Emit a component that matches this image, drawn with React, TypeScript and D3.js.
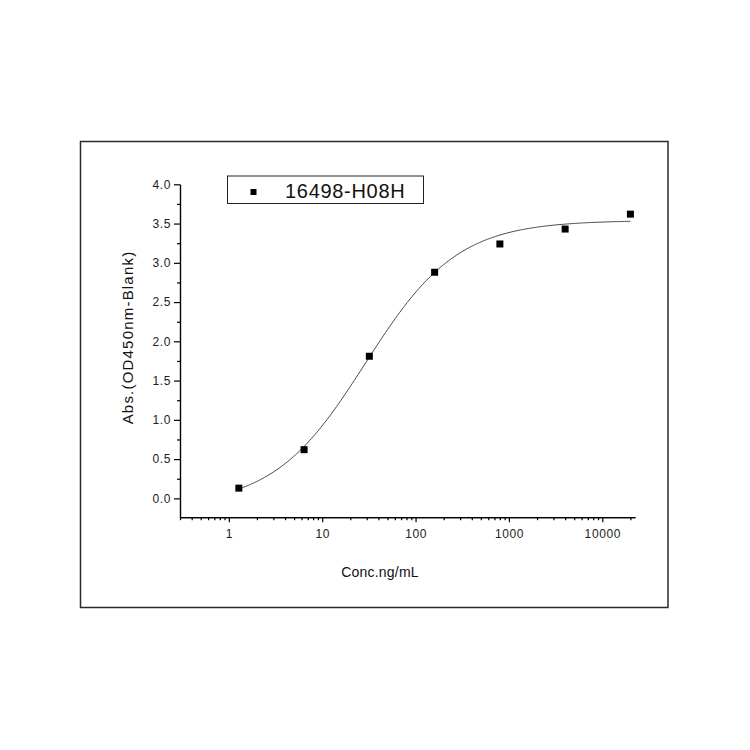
import { useEffect, useRef } from 'react';
import * as d3 from 'd3';

// measured points (ng/mL vs OD450 - blank)
const conc = [1.28, 6.4, 32, 160, 800, 4000, 20000];
const absorbance = [0.13, 0.62, 1.81, 2.88, 3.24, 3.43, 3.62];
const seriesName = '16498-H08H';

const xTicks = [1, 10, 100, 1000, 10000];
const yTicks = [0, 0.5, 1, 1.5, 2, 2.5, 3, 3.5, 4];
const xDomain: [number, number] = [0.3, 22400];
const yDomain: [number, number] = [-0.24, 4];

// 4-parameter logistic fit, parameters estimated from the drawn curve
const fitBottom = -0.1;
const fitTop = 3.54;
const fitX0 = 29;
const fitHill = 0.88;

const FONT = 'Liberation Sans, Arial, sans-serif';

export default function App() {
  const svgRef = useRef<SVGSVGElement>(null);

  useEffect(() => {
    const svg = d3.select(svgRef.current);
    if (!svg.node()) return;
    svg.selectAll('*').remove();

    const width = 750;
    const height = 750;
    svg.attr('viewBox', `0 0 ${width} ${height}`);

    const x = d3.scaleLog().domain(xDomain).range([180, 635]);
    const y = d3.scaleLinear().domain(yDomain).range([517.2, 184.3]);

    svg.append('rect').attr('width', width).attr('height', height).attr('fill', '#fff');

    // outer frame
    svg
      .append('rect')
      .attr('x', 80.5)
      .attr('y', 141.5)
      .attr('width', 587.5)
      .attr('height', 466)
      .attr('fill', 'none')
      .attr('stroke', '#2a2a2a')
      .attr('stroke-width', 1.5);

    const styleTicks = (sel: d3.Selection<SVGGElement, unknown, null, undefined>) => {
      sel.select('.domain').attr('stroke', '#000').attr('stroke-width', 1.2);
      sel.selectAll('.tick line').attr('stroke', '#000').attr('stroke-width', 1.2);
      sel
        .selectAll('text')
        .attr('font-family', FONT)
        .attr('font-size', 12)
        .attr('letter-spacing', 0.6)
        .attr('fill', '#222');
    };

    // minor ticks
    const xMinor: number[] = [];
    for (let e = -1; e <= 4; e++) {
      for (let m = 2; m <= 9; m++) {
        const v = m * Math.pow(10, e);
        if (v >= xDomain[0] && v <= xDomain[1]) xMinor.push(v);
      }
    }
    const yMinor = d3.range(-0.25, 4.01, 0.25).filter((v) => v >= yDomain[0] && !yTicks.includes(+v.toFixed(2)));

    svg
      .append('g')
      .attr('transform', 'translate(0,517.2)')
      .call(d3.axisBottom(x).tickValues(xMinor).tickSize(3).tickFormat(() => '').tickSizeOuter(0))
      .call(styleTicks);

    svg
      .append('g')
      .attr('transform', 'translate(0,517.2)')
      .call(d3.axisBottom(x).tickValues(xTicks).tickSize(5).tickPadding(7).tickSizeOuter(0).tickFormat((v) => `${v}`))
      .call(styleTicks);

    svg
      .append('g')
      .attr('transform', 'translate(180,0)')
      .call(d3.axisLeft(y).tickValues(yMinor).tickSize(3).tickFormat(() => '').tickSizeOuter(0))
      .call(styleTicks);

    svg
      .append('g')
      .attr('transform', 'translate(180,0)')
      .call(d3.axisLeft(y).tickValues(yTicks).tickSize(6).tickPadding(3).tickSizeOuter(0).tickFormat(d3.format('.1f')))
      .call(styleTicks);

    // fitted curve
    const fitY = (c: number) => fitTop + (fitBottom - fitTop) / (1 + Math.pow(c / fitX0, fitHill));
    const logMin = Math.log10(conc[0]);
    const logMax = Math.log10(conc[conc.length - 1]);
    const curvePts = d3.range(0, 201).map((i) => Math.pow(10, logMin + ((logMax - logMin) * i) / 200));
    svg
      .append('path')
      .datum(curvePts)
      .attr('fill', 'none')
      .attr('stroke', '#4a4a4a')
      .attr('stroke-width', 1)
      .attr(
        'd',
        d3
          .line<number>()
          .x((c) => x(c))
          .y((c) => y(fitY(c))),
      );

    // data markers
    const s = 7;
    svg
      .append('g')
      .selectAll('rect')
      .data(conc.map((c, i) => ({ c, v: absorbance[i] })))
      .join('rect')
      .attr('x', (d) => x(d.c) - s / 2)
      .attr('y', (d) => y(d.v) - s / 2)
      .attr('width', s)
      .attr('height', s)
      .attr('fill', '#000');

    // legend
    const lg = svg.append('g');
    lg.append('rect')
      .attr('x', 227.5)
      .attr('y', 176)
      .attr('width', 196)
      .attr('height', 27.5)
      .attr('fill', '#fff')
      .attr('stroke', '#222')
      .attr('stroke-width', 1);
    lg.append('rect').attr('x', 250.5).attr('y', 189).attr('width', 6).attr('height', 6).attr('fill', '#000');
    lg.append('text')
      .attr('x', 285)
      .attr('y', 197.5)
      .attr('font-family', FONT)
      .attr('font-size', 20)
      .attr('letter-spacing', 0.7)
      .attr('fill', '#111')
      .text(seriesName);

    // axis titles
    svg
      .append('text')
      .attr('x', 380)
      .attr('y', 576.5)
      .attr('text-anchor', 'middle')
      .attr('font-family', FONT)
      .attr('font-size', 14)
      .attr('letter-spacing', 0.2)
      .attr('fill', '#111')
      .text('Conc.ng/mL');

    svg
      .append('text')
      .attr('transform', 'translate(133,337.5) rotate(-90)')
      .attr('text-anchor', 'middle')
      .attr('font-family', FONT)
      .attr('font-size', 15)
      .attr('letter-spacing', 1.2)
      .attr('fill', '#111')
      .text('Abs.(OD450nm-Blank)');
  }, []);

  return (
    <svg
      ref={svgRef}
      width={750}
      height={750}
      style={{ position: 'absolute', left: 0, top: 0, display: 'block' }}
      role="img"
      aria-label="Dose response curve for 16498-H08H"
    />
  );
}
